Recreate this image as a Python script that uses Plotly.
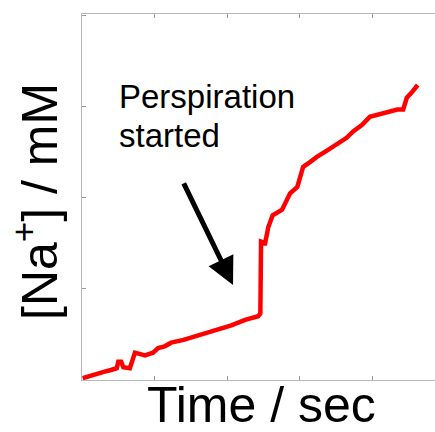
import plotly.graph_objects as go

# Trace (time in axis units, [Na+] in axis units)
time = [0.01, 0.12, 0.21, 0.30, 0.40, 0.48, 0.50, 0.54, 0.57, 0.66, 0.73, 0.80, 0.87, 0.98, 1.05,
        1.14, 1.23, 1.40, 1.56, 1.72, 1.88, 2.06, 2.25, 2.36, 2.43, 2.46, 2.47, 2.51, 2.52, 2.57,
        2.63, 2.76, 2.87, 2.97, 3.05, 3.14, 3.24, 3.40, 3.56, 3.65, 3.74, 3.86, 3.97, 4.10, 4.25,
        4.35, 4.43, 4.48, 4.55, 4.63]
sodium = [0.02, 0.05, 0.07, 0.09, 0.11, 0.13, 0.20, 0.20, 0.14, 0.13, 0.30, 0.29, 0.27, 0.30, 0.35,
          0.37, 0.41, 0.44, 0.48, 0.52, 0.55, 0.60, 0.66, 0.68, 0.70, 0.73, 1.52, 1.51, 1.48, 1.68,
          1.81, 1.87, 2.05, 2.12, 2.34, 2.39, 2.45, 2.53, 2.62, 2.66, 2.73, 2.80, 2.89, 2.92, 2.95,
          2.97, 2.97, 3.10, 3.16, 3.24]

x_ticks = [0, 1, 2, 3, 4]
y_ticks = [0, 1, 2, 3, 4]

fig = go.Figure()
fig.add_trace(go.Scatter(x=time, y=sodium, mode="lines",
                         line=dict(color="#ff0000", width=4.5), hoverinfo="skip"))

axis_common = dict(showgrid=False, zeroline=False, showline=True, linecolor="#b8b8b8",
                   linewidth=1, ticks="inside", ticklen=4, tickcolor="#9a9a9a",
                   showticklabels=False)

fig.update_layout(
    width=435, height=432,
    margin=dict(l=82, r=0, t=14, b=52),
    paper_bgcolor="white", plot_bgcolor="white",
    showlegend=False,
    xaxis=dict(range=[0, 4.869], tickvals=x_ticks, mirror="ticks", **axis_common),
    yaxis=dict(range=[0, 4.02], tickvals=y_ticks, mirror=False, **axis_common),
    font=dict(family="Liberation Sans, Arial, sans-serif", color="black"),
)

# axis titles as annotations
fig.add_annotation(text="Time / sec", xref="paper", yref="paper", x=(261 - 82) / 353,
                   y=-(405 - 380) / 366, xanchor="center", yanchor="middle",
                   showarrow=False, font=dict(size=50, color="black"))
fig.add_annotation(text="[Na<sup>+</sup>] / mM", xref="paper", yref="paper",
                   x=-(82 - 36) / 353, y=(380 - 202) / 366, xanchor="center",
                   yanchor="middle", textangle=-90, showarrow=False,
                   font=dict(size=50, color="black"))

# note text
fig.add_annotation(text="Perspiration", xref="paper", yref="paper", x=(117 - 82) / 353,
                   y=(380 - 96) / 366, xanchor="left", yanchor="middle", showarrow=False,
                   font=dict(size=33, color="black"))
fig.add_annotation(text="started", xref="paper", yref="paper", x=(117 - 82) / 353,
                   y=(380 - 135) / 366, xanchor="left", yanchor="middle", showarrow=False,
                   font=dict(size=33, color="black"))

# arrow
fig.add_annotation(text="", x=(233 - 82) / 72.5, y=(380 - 285) / 91, xref="x", yref="y",
                   ax=-50, ay=-103, showarrow=True, arrowhead=2, arrowsize=1.1,
                   arrowwidth=5, arrowcolor="black")

fig.write_html("out.html")
